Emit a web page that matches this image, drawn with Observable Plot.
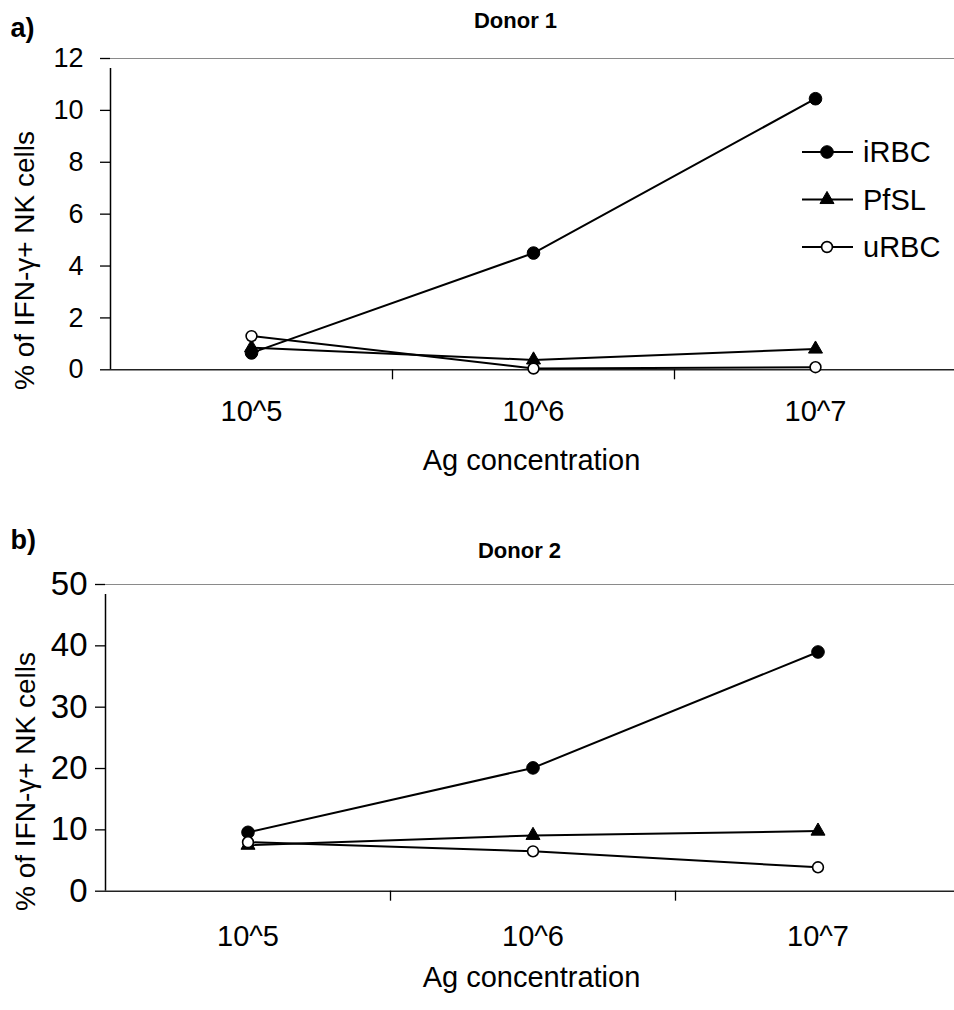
<!DOCTYPE html>
<html>
<head>
<meta charset="utf-8">
<script src="https://cdn.jsdelivr.net/npm/d3@7"></script>
<script src="https://cdn.jsdelivr.net/npm/@observablehq/plot@0.6"></script>
<style>
  body { margin: 0; background: #fff; }
  #chart { position: relative; width: 954px; height: 1010px; overflow: hidden; }
  #chart svg { position: absolute; left: 0; display: block; }
</style>
</head>
<body>
<div id="chart"></div>
<script>
const FONT = "'Liberation Sans', Arial, Helvetica, sans-serif";

// Antigen concentrations (categories) and stimuli (series)
const concentrations = ["10^5", "10^6", "10^7"];
const seriesNames = ["iRBC", "PfSL", "uRBC"];

// % of IFN-γ+ NK cells, Donor 1
const donor1IRBC = [0.65, 4.5, 10.45];
const donor1PfSL = [0.85, 0.38, 0.8];
const donor1URBC = [1.3, 0.05, 0.1];

// % of IFN-γ+ NK cells, Donor 2
const donor2IRBC = [9.6, 20.1, 39.0];
const donor2PfSL = [7.5, 9.1, 9.8];
const donor2URBC = [8.0, 6.5, 3.9];

// y-axis tick values
const donor1Ticks = [0, 2, 4, 6, 8, 10, 12];
const donor2Ticks = [0, 10, 20, 30, 40, 50];

// marker style per stimulus
const markerSymbol = {iRBC: "circle", PfSL: "triangle", uRBC: "circle"};
const markerFill = {iRBC: "black", PfSL: "black", uRBC: "white"};
const markerR = {iRBC: 6.3, PfSL: 5.2, uRBC: 5.4};

function tidy(columns) {
  return seriesNames.flatMap((s, si) =>
    columns[si].map((v, i) => ({series: s, pos: i + 1, concentration: concentrations[i], value: v}))
  );
}

// free-standing label placed in pixel space relative to the frame's top-left corner
function note(str, o, m) {
  return Plot.text([str], {
    text: (d) => d,
    frameAnchor: "top-left",
    dx: o.x - m.left,
    dy: o.y - m.top,
    fontSize: o.size,
    fontWeight: o.weight || "normal",
    textAnchor: o.anchor || "middle",
    lineAnchor: "middle",
    rotate: o.rotate || 0,
    fill: "black"
  });
}

function panel(cfg) {
  const m = cfg.margin;
  const rows = tidy(cfg.columns);
  const yMax = cfg.ticks[cfg.ticks.length - 1];
  const marks = [
    // top border of the plot area
    Plot.ruleY([yMax], {x1: 0.5, x2: 3.5, stroke: "#8a8a8a", strokeWidth: 1.2}),
    // value axis
    Plot.axisY({ticks: cfg.ticks, tickSize: 10, tickPadding: cfg.yTickPadding, fontSize: cfg.yTickFont, label: null, strokeWidth: 1.3}),
    Plot.ruleX([0.5], {y1: 0, y2: yMax, insetBottom: -10, stroke: "black", strokeWidth: 1.5}),
    // category axis: ticks between categories, labels at categories
    Plot.ruleY([0], {x1: 0.5, x2: 3.5, stroke: "#222", strokeWidth: 1.5}),
    Plot.axisX({ticks: [1.5, 2.5], tickSize: 10, tickFormat: () => "", label: null, strokeWidth: 1.3}),
    Plot.axisX({ticks: [1, 2, 3], tickSize: 0, tickPadding: cfg.xTickPadding, fontSize: 29, label: null,
      tickFormat: (d) => concentrations[d - 1]})
  ];
  for (const s of seriesNames) {
    const data = rows.filter((d) => d.series === s);
    marks.push(Plot.line(data, {x: "pos", y: "value", stroke: "black", strokeWidth: 2}));
    marks.push(Plot.dot(data, {x: "pos", y: "value", symbol: markerSymbol[s], r: markerR[s],
      fill: markerFill[s], stroke: "black", strokeWidth: s === "uRBC" ? 1.6 : 1}));
  }
  marks.push(
    note(cfg.letter, cfg.letterPos, m),
    note(cfg.title, cfg.titlePos, m),
    note("Ag concentration", cfg.xLabelPos, m),
    note("% of IFN-\u03b3+ NK cells", cfg.yLabelPos, m)
  );
  return Plot.plot({
    width: 954,
    height: cfg.height,
    marginLeft: m.left,
    marginRight: m.right,
    marginTop: m.top,
    marginBottom: m.bottom,
    style: {fontFamily: FONT, background: "white", color: "black", overflow: "hidden"},
    x: {type: "linear", domain: [0.5, 3.5], axis: null},
    y: {type: "linear", domain: [0, yMax], axis: null},
    marks
  });
}

const svgA = panel({
  columns: [donor1IRBC, donor1PfSL, donor1URBC],
  ticks: donor1Ticks,
  height: 490,
  margin: {left: 110, right: -2, top: 58, bottom: 120.7},
  yTickFont: 27,
  yTickPadding: 17,
  xTickPadding: 31,
  letter: "a)", letterPos: {x: 10, y: 28, size: 27, weight: "bold", anchor: "start"},
  title: "Donor 1", titlePos: {x: 515, y: 20, size: 22, weight: "bold"},
  xLabelPos: {x: 531, y: 460, size: 29},
  yLabelPos: {x: 25, y: 260, size: 28, rotate: -90}
});

const svgB = panel({
  columns: [donor2IRBC, donor2PfSL, donor2URBC],
  ticks: donor2Ticks,
  height: 520,
  margin: {left: 105, right: -6, top: 94, bottom: 119.3},
  yTickFont: 33,
  yTickPadding: 8,
  xTickPadding: 34,
  letter: "b)", letterPos: {x: 10, y: 50, size: 27, weight: "bold", anchor: "start"},
  title: "Donor 2", titlePos: {x: 519, y: 60, size: 22, weight: "bold"},
  xLabelPos: {x: 531, y: 487, size: 29},
  yLabelPos: {x: 26, y: 291, size: 28, rotate: -90}
});

// legend for panel a
const legend = d3.select(svgA).append("g")
  .attr("font-family", FONT).attr("font-size", 29).attr("text-anchor", "start");
seriesNames.forEach((s, i) => {
  const cy = 152 + i * 47.5;
  legend.append("line").attr("x1", 802).attr("x2", 853).attr("y1", cy).attr("y2", cy)
    .attr("stroke", "black").attr("stroke-width", 2);
  const sym = d3.symbol(s === "PfSL" ? d3.symbolTriangle : d3.symbolCircle, Math.PI * markerR[s] ** 2);
  legend.append("path").attr("transform", `translate(827,${cy})`).attr("d", sym())
    .attr("fill", markerFill[s]).attr("stroke", "black").attr("stroke-width", s === "uRBC" ? 1.6 : 1);
  legend.append("text").attr("x", 863).attr("y", cy).attr("dy", "0.35em")
    .attr("text-anchor", "start").attr("fill", "black").text(s);
});

svgA.style.top = "0px";
svgB.style.top = "490px";
const chart = document.getElementById("chart");
chart.appendChild(svgA);
chart.appendChild(svgB);
</script>
</body>
</html>
